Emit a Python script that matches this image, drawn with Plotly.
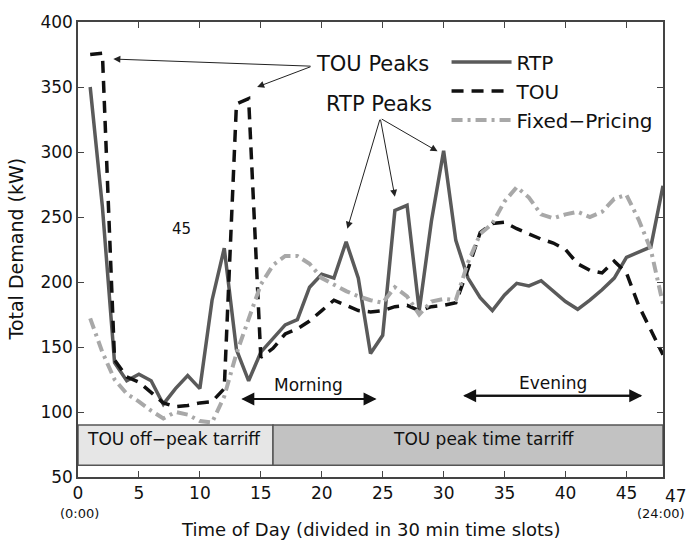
import plotly.graph_objects as go

slots = list(range(1, 49))
rtp = [350, 258, 138, 124, 129, 124, 106, 118, 128, 118,
       186, 226, 148, 124, 146, 157, 167, 171, 196, 206,
       203, 231, 203, 145, 159, 255, 259, 178, 247, 301,
       232, 203, 188, 178, 190, 199, 197, 201, 193, 185,
       179, 186, 194, 203, 219, 223, 227, 274]
tou = [375, 376, 140, 127, 123, 115, 107, 104, 105, 107,
       108, 118, 337, 341, 142, 149, 160, 164, 170, 178,
       186, 182, 178, 177, 178, 181, 182, 178, 181, 182,
       184, 210, 238, 245, 246, 241, 237, 233, 230, 225,
       214, 209, 207, 216, 207, 182, 163, 144]
fixed = [172, 146, 125, 114, 108, 101, 95, 100, 98, 93,
         92, 112, 145, 172, 198, 213, 220, 220, 214, 203,
         198, 193, 189, 186, 184, 196, 189, 175, 185, 187,
         186, 215, 237, 245, 262, 273, 265, 252, 249, 252,
         254, 250, 254, 264, 267, 248, 225, 183]

x_ticks = [0, 5, 10, 15, 20, 25, 30, 35, 40, 45]
y_ticks = [50, 100, 150, 200, 250, 300, 350, 400]

FONT = "DejaVu Sans"

fig = go.Figure()
fig.add_trace(go.Scatter(x=slots, y=rtp, mode="lines", name="RTP",
                         line=dict(color="#5a5a5a", width=3.5)))
fig.add_trace(go.Scatter(x=slots, y=tou, mode="lines", name="TOU",
                         line=dict(color="#111111", width=3.5, dash="12px,8px")))
fig.add_trace(go.Scatter(x=slots, y=fixed, mode="lines", name="Fixed\u2212Pricing",
                         line=dict(color="#a8a8a8", width=4, dash="11px,5px,3px,5px")))

# tariff boxes
fig.add_shape(type="rect", x0=0, x1=16, y0=59, y1=90, xref="x", yref="y",
              fillcolor="#e6e6e6", line=dict(color="#555555", width=1.5), layer="below")
fig.add_shape(type="rect", x0=16, x1=48, y0=59, y1=90, xref="x", yref="y",
              fillcolor="#c2c2c2", line=dict(color="#555555", width=1.5), layer="below")

ann = []
ann.append(dict(x=7.9, y=79, text="TOU off\u2212peak tarriff", showarrow=False,
                font=dict(family=FONT, size=17, color="#111")))
ann.append(dict(x=33.3, y=79, text="TOU peak time tarriff", showarrow=False,
                font=dict(family=FONT, size=17, color="#111")))

# Morning / Evening double arrows
for (xa, xb, yy) in [(13.4, 24.5, 110), (31.6, 46.3, 112.5)]:
    ann.append(dict(x=xa, y=yy, ax=xb, ay=yy, axref="x", ayref="y", text="",
                    showarrow=True, arrowhead=2, arrowsize=1.3, arrowwidth=2, arrowcolor="#111"))
    ann.append(dict(x=xb, y=yy, ax=xa, ay=yy, axref="x", ayref="y", text="",
                    showarrow=True, arrowhead=2, arrowsize=1.3, arrowwidth=2, arrowcolor="#111"))
ann.append(dict(x=18.9, y=121, text="Morning", showarrow=False,
                font=dict(family=FONT, size=17, color="#111")))
ann.append(dict(x=39.0, y=122.5, text="Evening", showarrow=False,
                font=dict(family=FONT, size=17, color="#111")))

# TOU peaks
ann.append(dict(x=24.2, y=368, text="TOU Peaks", showarrow=False,
                font=dict(family=FONT, size=21, color="#111")))
for (hx, hy) in [(2.9, 371.5), (14.7, 350)]:
    ann.append(dict(x=hx, y=hy, ax=19.2, ay=366, axref="x", ayref="y", text="",
                    showarrow=True, arrowhead=2, arrowsize=1.4, arrowwidth=1, arrowcolor="#222"))
# RTP peaks
ann.append(dict(x=24.7, y=337, text="RTP Peaks", showarrow=False,
                font=dict(family=FONT, size=21, color="#111")))
for (hx, hy) in [(22.1, 241), (26.0, 265.5), (29.5, 300.5)]:
    ann.append(dict(x=hx, y=hy, ax=24.8, ay=326, axref="x", ayref="y", text="",
                    showarrow=True, arrowhead=2, arrowsize=1.4, arrowwidth=1, arrowcolor="#222"))

ann.append(dict(x=8.5, y=241, text="45", showarrow=False,
                font=dict(family=FONT, size=15, color="#111")))

# extra x labels
ann.append(dict(x=48, xshift=13, y=0, yref="paper", yanchor="top", yshift=-7, text="47",
                showarrow=False, font=dict(family=FONT, size=17, color="#111")))
ann.append(dict(x=0.1, y=0, yref="paper", yanchor="top", yshift=-27, text="(0:00)", showarrow=False,
                font=dict(family=FONT, size=13, color="#111")))
ann.append(dict(x=47.8, y=0, yref="paper", yanchor="top", yshift=-27, text="(24:00)", showarrow=False,
                font=dict(family=FONT, size=13, color="#111")))
ann.append(dict(x=24.0, y=0, yref="paper", yanchor="top", yshift=-40,
                text="Time of Day (divided in 30 min time slots)", showarrow=False,
                font=dict(family=FONT, size=18, color="#111")))
ann.append(dict(x=0, xref="paper", xanchor="right", xshift=-50, y=0.5, yref="paper",
                text="Total Demand (kW)", textangle=-90, showarrow=False,
                font=dict(family=FONT, size=19, color="#111")))

fig.update_layout(
    width=689, height=541,
    margin=dict(l=78, r=26, t=17, b=64),
    paper_bgcolor="white", plot_bgcolor="white",
    annotations=ann,
    showlegend=True,
    legend=dict(x=0.63, y=0.955, xanchor="left", yanchor="top",
                bgcolor="rgba(0,0,0,0)", borderwidth=0,
                font=dict(family=FONT, size=20, color="#111"),
                itemwidth=60, tracegroupgap=0),
    font=dict(family=FONT, color="#111"),
)
fig.update_xaxes(range=[0, 48], tickvals=x_ticks, ticktext=[str(v) for v in x_ticks],
                 ticks="inside", ticklen=6, tickcolor="#444", mirror="ticks",
                 showline=True, linecolor="#444", linewidth=1.5, showgrid=False, zeroline=False,
                 tickfont=dict(family=FONT, size=17, color="#111"))
fig.update_yaxes(range=[50, 400], tickvals=y_ticks,
                 ticks="inside", ticklen=6, tickcolor="#444", mirror="ticks",
                 showline=True, linecolor="#444", linewidth=1.5, showgrid=False, zeroline=False,
                 tickfont=dict(family=FONT, size=17, color="#111"))

fig.write_html("out.html")
